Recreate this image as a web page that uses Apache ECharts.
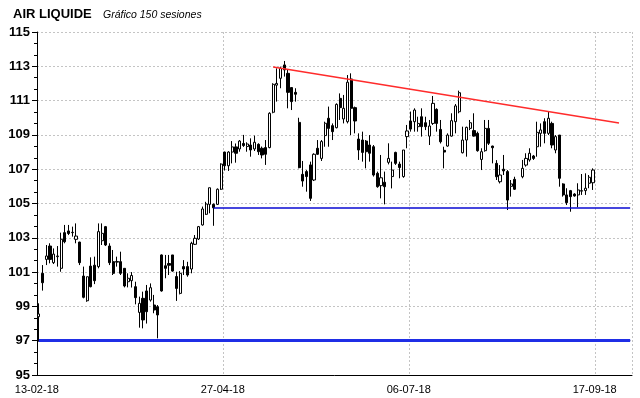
<!DOCTYPE html>
<html>
<head>
<meta charset="utf-8">
<script src="https://cdn.jsdelivr.net/npm/echarts@6/dist/echarts.min.js"></script>
<style>
  html, body { margin: 0; padding: 0; background: #fff; }
  #chart { width: 640px; height: 398px; }
</style>
</head>
<body>
<div id="chart"></div>
<script>
// 150 sesiones (null = hueco en la serie)
var openVals = [
  98.40, 100.93, 101.74, 102.52, 101.55, 101.90, 101.22, 103.30, 103.40, 103.30,
  102.91, 102.75, 100.77, 99.33, 101.35, 101.40, 101.32, 102.83, 103.65, 102.52,
  101.61, 101.58, 101.61, 101.22, 100.44, 100.50, 100.15, 98.65, 99.47, 99.90,
  99.37, 99.08, 98.98, 102.00, 101.37, 101.50, 102.00, 100.74, 99.76, 101.32,
  101.32, 101.18, 102.62, 102.93, 103.75, 104.37, 104.95, 104.95, 104.95, 105.83,
  108.00, 107.20, 108.00, 108.30, 108.18, 108.50, 108.32, 108.41, 108.18, 108.45,
  108.22, 108.26, 108.26, 110.32, 111.90, 112.30, 113.08, 112.59, 111.76, 111.48,
  109.73, 106.70, 106.86, 107.25, 106.37, 108.22, 107.63, 108.96, 109.97, 109.54,
  109.42, 111.13, 109.93, 109.77, 112.26, 110.59, 108.76, 108.70, 108.64, 108.41,
  108.31, 106.76, 106.04, 106.24, 107.40, 106.57, 107.98, 107.30, 106.57, 108.90,
  109.81, 109.77, 109.48, 110.06, 109.71, 108.93, 109.67, 110.49, 109.32, 108.10,
  108.35, 108.93, 109.77, 110.35, 107.96, 108.70, 109.38, 109.25, 109.09, 107.57,
  108.08, 109.38, 108.35, 107.34, 106.27, 107.00, 106.86, 106.00, 106.41, null,
  106.56, 107.24, 107.54, 107.77, 108.31, 109.09, 109.77, 109.09, 109.67, 108.12,
  108.99, 106.14, 105.50, 105.75, 105.55, 105.50, 105.72, 105.75, 106.18, 106.21
];
var closeVals = [
  98.56, 100.38, 101.94, 101.74, 102.05, 101.94, 102.91, 102.77, 103.25, 103.32,
  103.10, 101.55, 99.53, 100.73, 100.15, 100.50, 103.36, 103.26, 102.58, 101.55,
  100.93, 101.62, 100.93, 100.19, 100.64, 100.80, 99.51, 99.18, 98.21, 98.69,
  100.09, 98.79, 98.50, 99.90, 101.22, 101.40, 101.06, 100.05, 100.93, 101.18,
  100.83, 102.68, 102.97, 103.65, 104.68, 104.97, 105.92, 104.75, 105.83, 107.30,
  107.20, 108.00, 108.30, 107.93, 108.64, 108.38, 108.47, 108.12, 108.57, 108.02,
  107.83, 107.87, 110.26, 111.95, 112.00, 112.88, 112.79, 111.48, 110.94, 111.37,
  107.09, 106.31, 106.57, 105.30, 107.87, 107.87, 108.61, 109.68, 109.38, 109.19,
  110.78, 110.59, 110.55, 112.07, 110.55, 109.81, 108.12, 107.98, 108.02, 107.93,
  106.66, 105.98, 106.50, 105.98, 107.63, 106.95, 107.34, 107.10, 108.12, 109.23,
  109.34, 110.45, 109.67, 109.48, 109.48, 109.52, 110.84, 109.67, 108.60, 108.00,
  108.99, 109.83, 110.69, 111.46, 108.70, 109.44, 109.71, 108.93, 108.08, 108.02,
  109.38, 108.51, 108.25, 106.56, 106.66, 106.90, 105.20, 106.14, 105.83, null,
  107.05, 107.63, 107.93, 107.63, 109.15, 109.29, 109.09, 109.97, 108.41, 108.90,
  106.47, 105.50, 105.05, 105.40, 105.44, 105.79, 105.75, 105.89, 106.53, 106.95
];
var lowVals = [
  96.94, 99.92, 101.41, 101.51, 101.47, 101.32, 101.02, 102.68, 103.16, 103.07,
  102.68, 101.41, 99.47, 99.27, 100.11, 100.30, 101.22, 102.58, 102.52, 101.41,
  100.83, 101.32, 100.83, 100.11, 100.11, 100.10, 99.12, 97.76, 97.72, 98.00,
  99.28, 98.60, 97.14, 99.86, 100.64, 100.83, 101.02, 99.32, 99.70, 100.83,
  100.73, 100.93, 102.58, 102.87, 103.71, 104.33, 104.43, 103.70, 104.91, 105.79,
  106.92, 106.90, 107.34, 107.38, 108.02, 108.30, 108.02, 107.73, 108.06, 107.83,
  107.63, 107.25, 108.22, 110.26, 110.94, 111.72, 112.40, 110.55, 110.45, 110.94,
  107.05, 105.98, 105.69, 105.15, 106.31, 107.83, 107.48, 108.31, 108.31, 108.70,
  109.38, 109.87, 109.67, 109.67, 108.99, 109.09, 107.54, 107.44, 107.05, 107.44,
  106.57, 105.92, 105.30, 104.95, 107.28, 105.88, 107.25, 106.47, 106.50, 108.22,
  109.19, 109.19, 109.19, 108.90, 109.28, 108.41, 109.58, 109.19, 108.50, 107.05,
  108.31, 108.90, 109.09, 110.26, 107.92, 107.73, 109.28, 108.90, 108.02, 106.95,
  108.02, 108.41, 107.34, 106.37, 106.17, 106.66, 104.62, 105.40, 105.79, null,
  106.47, 107.15, 107.44, 107.54, 107.73, 108.31, 108.51, 108.99, 108.22, 107.93,
  105.98, 105.40, 104.91, 104.52, 105.40, 104.78, 105.50, 105.50, 105.89, 105.79
];
var highVals = [
  99.18, 101.41, 102.58, 102.68, 102.38, 102.52, 103.30, 103.75, 103.75, 103.65,
  103.84, 102.77, 101.32, 100.73, 101.86, 101.90, 103.84, 103.84, 103.69, 102.68,
  102.29, 101.90, 102.19, 101.22, 100.93, 101.00, 100.44, 99.57, 99.86, 100.25,
  100.34, 99.67, 99.08, 102.03, 102.00, 102.00, 102.00, 101.02, 101.06, 101.70,
  101.60, 102.77, 103.16, 103.69, 104.82, 105.10, 105.92, 105.00, 105.88, 107.34,
  108.02, 108.05, 108.64, 108.50, 108.70, 109.00, 108.57, 108.80, 108.96, 108.51,
  108.32, 108.70, 110.32, 112.01, 112.88, 112.98, 113.31, 112.79, 111.76, 111.72,
  110.00, 107.48, 106.95, 107.44, 107.93, 108.70, 108.70, 109.77, 110.65, 109.67,
  110.84, 111.42, 111.33, 112.49, 112.59, 110.65, 109.09, 109.19, 108.70, 108.99,
  108.41, 106.86, 107.83, 106.86, 108.51, 107.44, 108.02, 107.44, 108.12, 109.58,
  110.36, 110.55, 110.06, 110.55, 110.06, 109.87, 111.27, 110.55, 109.87, 108.31,
  109.09, 110.26, 110.80, 111.58, 109.48, 109.48, 109.87, 110.26, 109.19, 108.22,
  109.87, 109.87, 108.37, 107.53, 107.24, 107.83, 106.95, 106.37, 106.56, null,
  107.54, 107.93, 108.22, 107.83, 109.77, 109.67, 109.97, 110.35, 109.77, 108.99,
  108.99, 106.18, 105.89, 105.79, 105.60, 106.18, 106.72, 106.76, 106.66, 107.05
];

var tickDates = ['13-02-18', '27-04-18', '06-07-18', '17-09-18'];
var tickSessions = [0, 50, 100, 150];

var supportLevels = [97, 104.75];
var supportStart = 47;
var trendLine = [[63, 112.96], [156, 109.69]];

var totalSlots = 160;

var sessions = [];
for (var i = 0; i < totalSlots; i++) sessions.push(String(i));

var candles = openVals.map(function (o, i) {
  if (o == null) return ['-', '-', '-', '-'];
  return [o, closeVals[i], lowVals[i], highVals[i]];
});

function isTick(index) {
  return tickSessions.indexOf(index) >= 0;
}

var myChart = echarts.init(document.getElementById('chart'));
var option = {
  animation: false,
  backgroundColor: '#fff',
  title: [
    {
      text: 'AIR LIQUIDE', left: 8, top: 3,
      textStyle: { fontFamily: 'Liberation Sans', fontSize: 13, fontWeight: 'bold', color: '#000' }
    },
    {
      text: 'Gráfico 150 sesiones', left: 98, top: 5,
      textStyle: { fontFamily: 'Liberation Sans', fontSize: 10.5, fontStyle: 'italic', fontWeight: 'normal', color: '#000' }
    }
  ],
  grid: { left: 37, right: 8, top: 32, bottom: 23 },
  xAxis: {
    type: 'category',
    data: sessions,
    boundaryGap: true,
    axisLine: { lineStyle: { color: '#000', width: 1 } },
    axisTick: { length: 4, interval: function (index) { return isTick(index); }, lineStyle: { color: '#000' } },
    axisLabel: {
      interval: function (index) { return isTick(index); },
      margin: 9,
      fontFamily: 'Liberation Sans',
      fontSize: 11,
      color: '#000',
      formatter: function (v, index) {
        var k = tickSessions.indexOf(index);
        return k >= 0 ? '{d|' + tickDates[k] + '}' : '';
      },
      rich: { d: { padding: [0, 4, 0, 0], fontFamily: 'Liberation Sans', fontSize: 11, color: '#000' } }
    },
    splitLine: {
      show: true,
      interval: function (index) { return isTick(index) && index > 0; },
      lineStyle: { color: '#c4c4c4', type: [2, 2], width: 1 }
    }
  },
  yAxis: {
    type: 'value',
    min: 95,
    max: 115,
    interval: 2,
    axisLine: { show: true, lineStyle: { color: '#000', width: 1 } },
    axisTick: { show: true, length: 5, lineStyle: { color: '#000' } },
    minorTick: { show: true, splitNumber: 3, length: 3, lineStyle: { color: '#000' } },
    axisLabel: { margin: 7, fontFamily: 'Liberation Sans', fontSize: 13, fontWeight: 'bold', color: '#000' },
    splitLine: { show: true, lineStyle: { color: '#c4c4c4', type: [2, 2], width: 1 } }
  },
  series: [
    {
      name: 'AIR LIQUIDE',
      type: 'candlestick',
      data: candles,
      barWidth: 2.6,
      itemStyle: {
        color: '#fff',
        color0: '#000',
        borderColor: '#000',
        borderColor0: '#000',
        borderWidth: 1
      },
      markLine: {
        silent: true,
        symbol: ['none', 'none'],
        label: { show: false },
        animation: false,
        data: [
          [
            { coord: [0, supportLevels[0]], lineStyle: { color: '#1f2ee6', width: 3, type: 'solid' } },
            { coord: [totalSlots - 1, supportLevels[0]] }
          ],
          [
            { coord: [supportStart, supportLevels[1]], lineStyle: { color: '#0a0ad2', width: 1.5, type: 'solid' } },
            { coord: [totalSlots - 1, supportLevels[1]] }
          ],
          [
            { coord: trendLine[0], lineStyle: { color: '#ff2b2b', width: 1.5, type: 'solid' } },
            { coord: trendLine[1] }
          ]
        ]
      }
    }
  ]
};
option && myChart.setOption(option);
</script>
</body>
</html>
